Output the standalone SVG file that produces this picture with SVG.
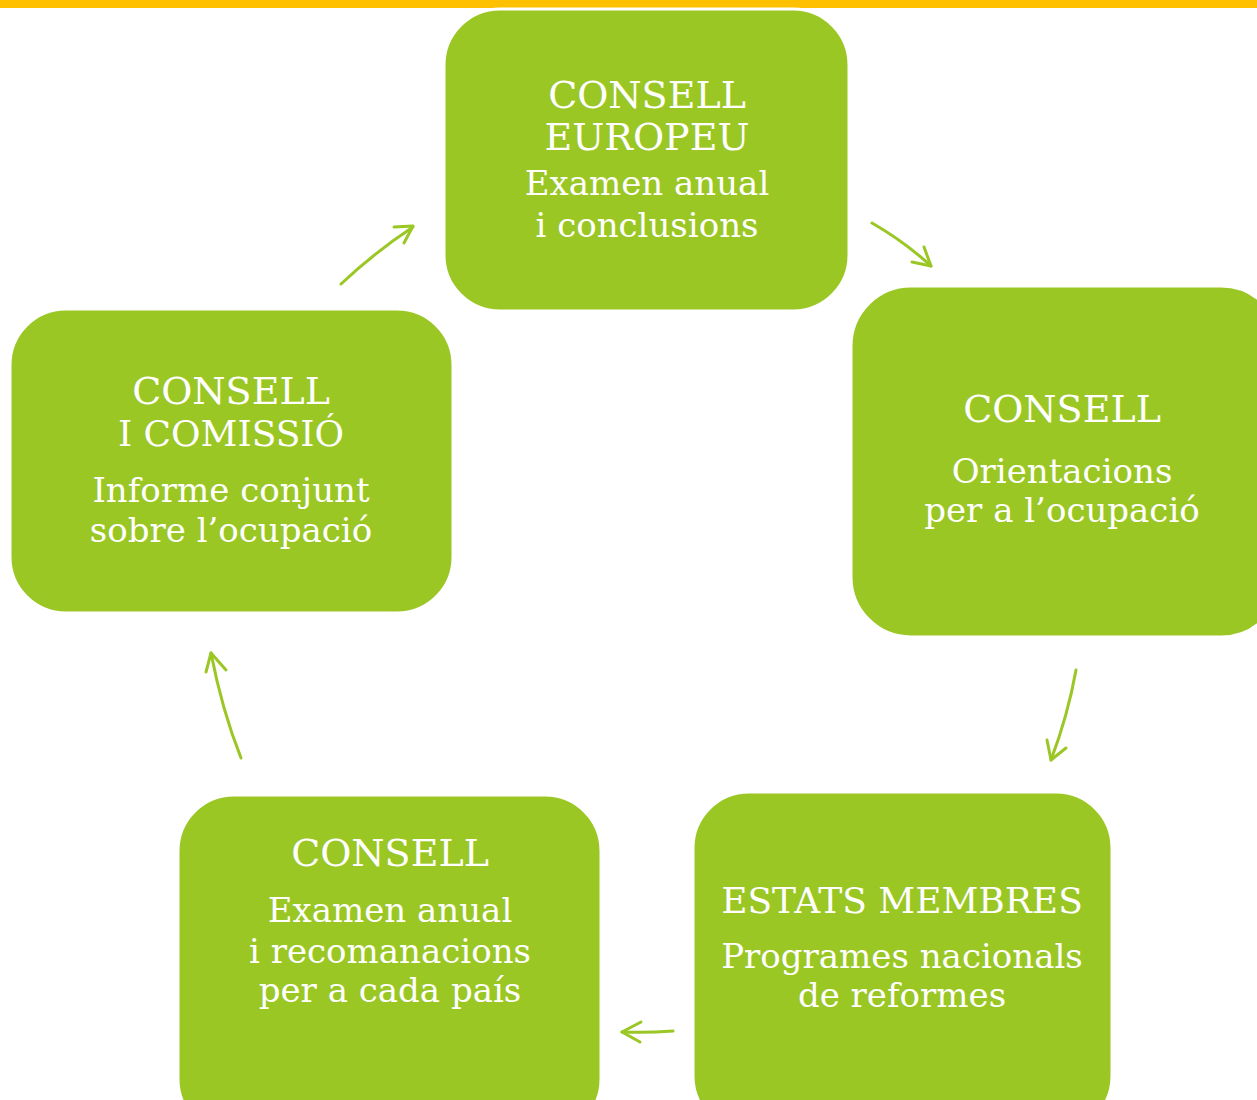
<svg xmlns="http://www.w3.org/2000/svg" width="1257" height="1100" viewBox="0 0 1257 1100">
<style>
.node{fill:#9AC724;stroke:#FFFFFF;stroke-width:3}
.t{font-family:"DejaVu Serif","Liberation Serif",serif;font-size:34px;fill:#FFFFFF;text-anchor:middle}
.h{font-size:38px}
.h2{font-size:36px}
.c{fill:none;stroke:#9AC724;stroke-width:3;stroke-linecap:round;stroke-linejoin:round}
</style>
<rect width="1257" height="1100" fill="#FFFFFF"/>
<rect x="0" y="0" width="1257" height="8" fill="#FFC000"/>
<g id="node-consell-europeu">
<rect class="node" x="444" y="9" width="405" height="302" rx="56"/>
<text class="t h" x="647" y="108">CONSELL</text>
<text class="t h" x="647" y="150">EUROPEU</text>
<text class="t" x="647" y="195">Examen anual</text>
<text class="t" x="647" y="237">i conclusions</text>
</g>
<g id="node-consell-orientacions">
<rect class="node" x="851" y="286" width="430" height="351" rx="60"/>
<text class="t h" x="1062" y="422">CONSELL</text>
<text class="t" x="1062" y="483">Orientacions</text>
<text class="t" x="1062" y="522">per a l’ocupació</text>
</g>
<g id="node-estats-membres">
<rect class="node" x="693" y="792" width="419" height="340" rx="56"/>
<text class="t h2" x="902" y="913">ESTATS MEMBRES</text>
<text class="t" x="902" y="968">Programes nacionals</text>
<text class="t" x="902" y="1007">de reformes</text>
</g>
<g id="node-consell-recomanacions">
<rect class="node" x="178" y="795" width="423" height="340" rx="56"/>
<text class="t h" x="390" y="866">CONSELL</text>
<text class="t" x="390" y="922">Examen anual</text>
<text class="t" x="390" y="963">i recomanacions</text>
<text class="t" x="390" y="1002">per a cada país</text>
</g>
<g id="node-consell-comissio">
<rect class="node" x="10" y="309" width="443" height="304" rx="56"/>
<text class="t h" x="231" y="404">CONSELL</text>
<text class="t h2" x="231" y="446">I COMISSIÓ</text>
<text class="t" x="231" y="502">Informe conjunt</text>
<text class="t" x="231" y="542">sobre l’ocupació</text>
</g>
<g id="connectors">
<path class="c" d="M341,284 Q375,252 413,227"/>
<path class="c" d="M394,227 L413,226 L404,243"/>
<path class="c" d="M872,223 Q905,242 931,266"/>
<path class="c" d="M912,262 L931,266 L924,247"/>
<path class="c" d="M1076,670 Q1068,715 1051,760"/>
<path class="c" d="M1047,740 L1051,760 L1066,748"/>
<path class="c" d="M673,1031 Q648,1033 622,1032"/>
<path class="c" d="M641,1022 L622,1032 L640,1042"/>
<path class="c" d="M241,758 Q222,710 211,653"/>
<path class="c" d="M206,672 L211,653 L226,670"/>
</g>
</svg>
